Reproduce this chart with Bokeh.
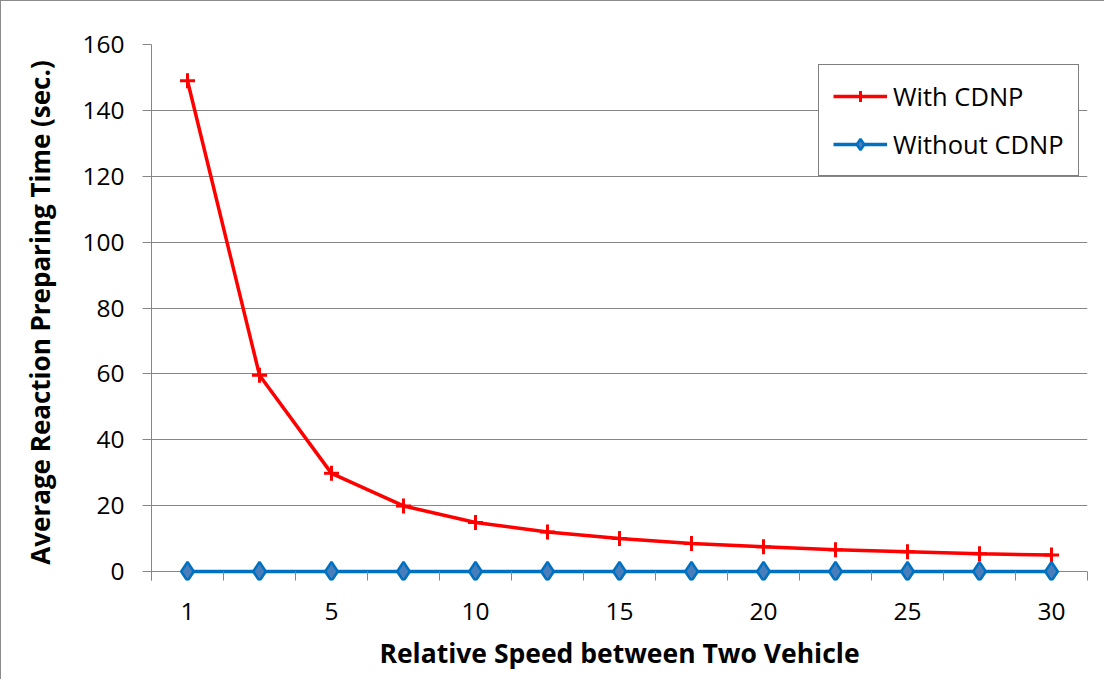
from bokeh.plotting import figure
from bokeh.models import Range1d, LinearAxis, FixedTicker, Legend, LegendItem, ColumnDataSource
from bokeh.embed import file_html
from bokeh.resources import INLINE

categories = ["1", "2.5", "5", "7.5", "10", "12.5", "15", "17.5", "20", "22.5", "25", "27.5", "30"]
with_cdnp = [149, 59.6, 29.8, 19.9, 14.9, 12.0, 10.0, 8.5, 7.5, 6.6, 6.0, 5.4, 5.0]
without_cdnp = [0, 0, 0, 0, 0, 0, 0, 0, 0, 0, 0, 0, 0]
y_ticks = [0, 20, 40, 60, 80, 100, 120, 140, 160]

FONT = "Open Sans"
GRID = "#868686"

idx = list(range(len(categories)))
src = ColumnDataSource(dict(x=idx, w=with_cdnp, wo=without_cdnp))

p = figure(output_backend="svg", toolbar_location=None,
           frame_width=936, frame_height=536,
           min_border_left=150, min_border_top=43, min_border_right=17, min_border_bottom=99,
           x_range=Range1d(-0.5, len(categories) - 0.5), y_range=Range1d(-2.732, 160),
           x_axis_type=None)
p.outline_line_color = None
p.background_fill_color = "white"
p.border_fill_color = "white"
p.styles = {"border-left": "1px solid #8c8c8c", "border-top": "1px solid #8c8c8c"}

# y axis
p.yaxis.ticker = FixedTicker(ticks=y_ticks)
p.yaxis.minor_tick_line_color = None
p.yaxis.major_tick_in = 0
p.yaxis.major_tick_out = 9
p.yaxis.major_tick_line_color = GRID
p.yaxis.axis_line_color = GRID
p.yaxis.major_label_text_font = FONT
p.yaxis.major_label_text_font_size = "24.5px"
p.yaxis.major_label_text_color = "black"
p.yaxis.major_label_standoff = 18
p.yaxis.axis_label = "Average Reaction Preparing Time (sec.)"
p.yaxis.axis_label_text_font = FONT
p.yaxis.axis_label_text_font_size = "26px"
p.yaxis.axis_label_text_font_style = "bold"
p.yaxis.axis_label_text_color = "black"
p.yaxis.axis_label_standoff = 21
p.ygrid.grid_line_color = GRID
p.ygrid.ticker = FixedTicker(ticks=y_ticks)
p.xgrid.grid_line_color = None

# x axis: labels at every other category, tick marks at category boundaries
bounds = [i - 0.5 for i in range(len(categories) + 1)]
lab_ticks = [i for i in idx if i % 2 == 0]
ax = LinearAxis(ticker=FixedTicker(ticks=lab_ticks, minor_ticks=bounds))
ax.major_label_overrides = {i: categories[i] for i in lab_ticks}
ax.major_tick_line_color = None
ax.minor_tick_in = 9
ax.minor_tick_out = 0
ax.minor_tick_line_color = GRID
ax.axis_line_color = None
ax.major_label_text_font = FONT
ax.major_label_text_font_size = "24.5px"
ax.major_label_text_color = "black"
ax.major_label_standoff = 16
ax.axis_label = "Relative Speed between Two Vehicle"
ax.axis_label_text_font = FONT
ax.axis_label_text_font_size = "26.5px"
ax.axis_label_text_font_style = "bold"
ax.axis_label_text_color = "black"
ax.axis_label_standoff = 12
p.add_layout(ax, "below")

RED = "#FF0000"
BLUE = "#0070C0"

l1 = p.line("x", "w", source=src, line_color=RED, line_width=3.5)
s1 = p.scatter("x", "w", source=src, marker="cross", size=15, line_color=RED, line_width=3)
l2 = p.line("x", "wo", source=src, line_color=BLUE, line_width=3.5)
s2 = p.scatter("x", "wo", source=src, marker="diamond", size=19, fill_color="#4A7EBB",
               line_color=BLUE, line_width=2.5)

legend = Legend(items=[LegendItem(label="With CDNP", renderers=[l1, s1]),
                       LegendItem(label="Without CDNP", renderers=[l2, s2])],
                location=(667, 404))
legend.label_text_font = FONT
legend.label_text_font_size = "25.5px"
legend.label_text_color = "black"
legend.border_line_color = "black"
legend.border_line_width = 1.5
legend.background_fill_alpha = 1
legend.glyph_width = 54
legend.glyph_height = 28
legend.label_height = 28
legend.label_standoff = 6
legend.spacing = 14
legend.padding = 14
legend.margin = 0
p.add_layout(legend, "center")

open("out.html", "w").write(file_html(p, INLINE))
